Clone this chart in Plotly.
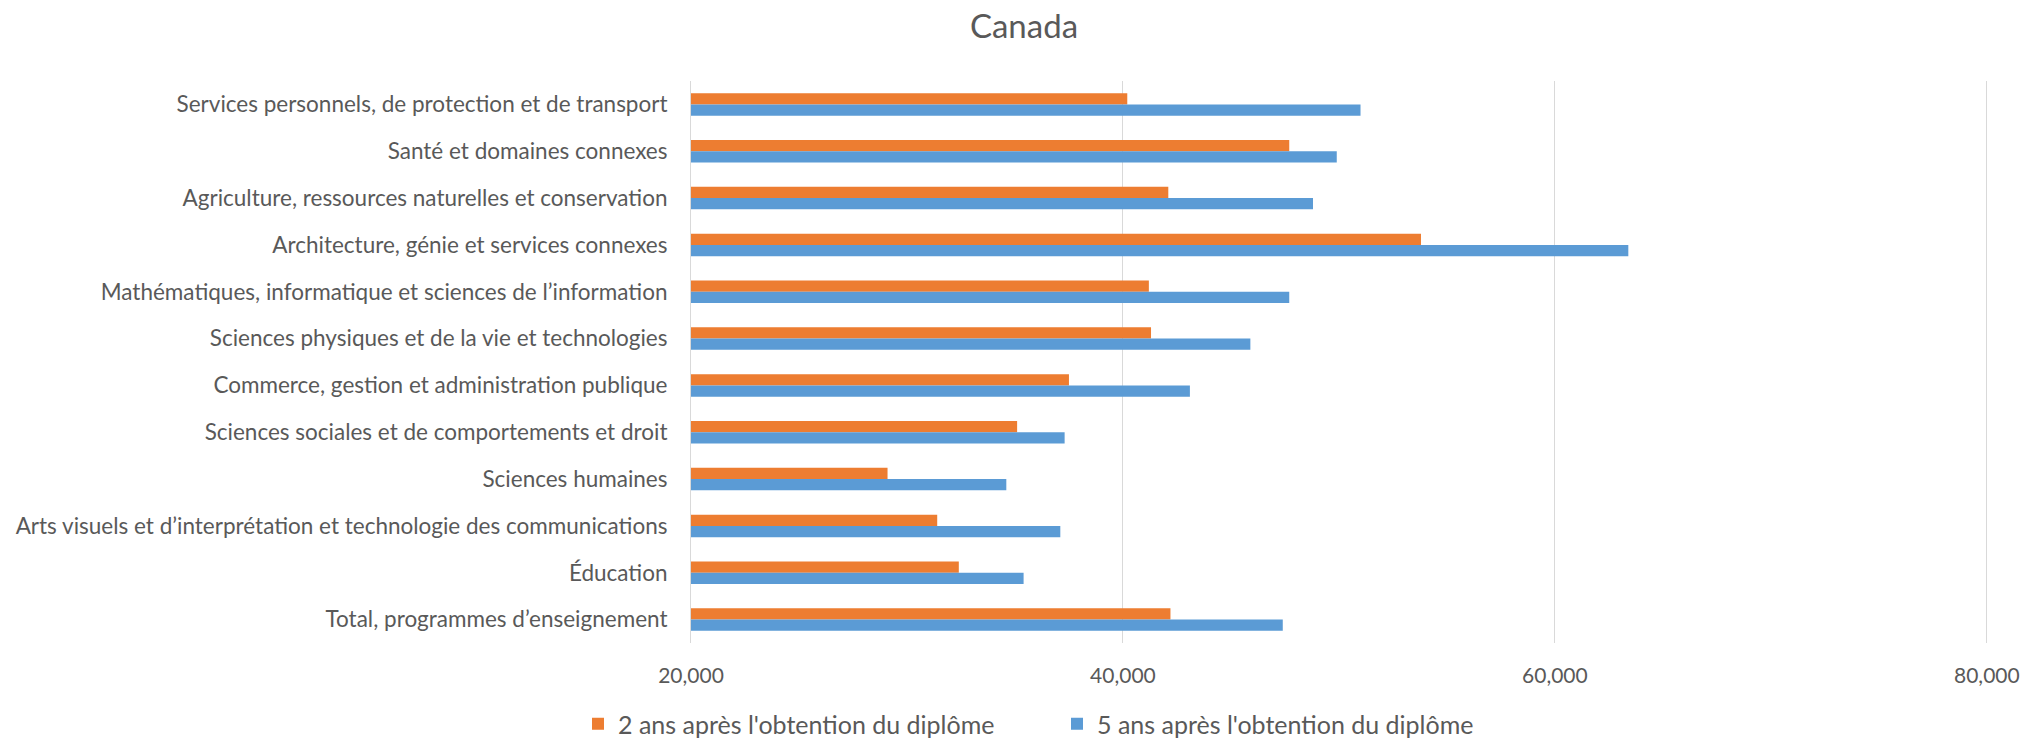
import plotly.graph_objects as go

categories = [
    "Services personnels, de protection et de transport",
    "Santé et domaines connexes",
    "Agriculture, ressources naturelles et conservation",
    "Architecture, génie et services connexes",
    "Mathématiques, informatique et sciences de l’information",
    "Sciences physiques et de la vie et technologies",
    "Commerce, gestion et administration publique",
    "Sciences sociales et de comportements et droit",
    "Sciences humaines",
    "Arts visuels et d’interprétation et technologie des communications",
    "Éducation",
    "Total, programmes d’enseignement",
]
two_years = [40200, 47700, 42100, 53800, 41200, 41300, 37500, 35100, 29100, 31400, 32400, 42200]
five_years = [51000, 49900, 48800, 63400, 47700, 45900, 43100, 37300, 34600, 37100, 35400, 47400]
series_names = ["2 ans après l'obtention du diplôme", "5 ans après l'obtention du diplôme"]
x_ticks = [20000, 40000, 60000, 80000]

FONT = "Lato"
TXT = "#595959"
W, H = 2028, 744

fig = go.Figure()
fig.add_trace(go.Bar(y=categories, x=two_years, orientation="h", name=series_names[0],
                     marker=dict(color="#ED7D31", line=dict(width=0))))
fig.add_trace(go.Bar(y=categories, x=five_years, orientation="h", name=series_names[1],
                     marker=dict(color="#5B9BD5", line=dict(width=0))))

fig.update_layout(
    width=W, height=H,
    paper_bgcolor="white", plot_bgcolor="white",
    margin=dict(l=691, r=39, t=81, b=101, autoexpand=False),
    barmode="group", bargap=0.52, bargroupgap=0,
    font=dict(family=FONT, color=TXT, size=22),
    title=dict(text="Canada", x=1024 / W, xanchor="center", xref="container",
               y=1 - 26 / H, yanchor="middle", yref="container",
               font=dict(family=FONT, size=33, color=TXT)),
    legend=dict(orientation="h", x=1057 / W, xanchor="center", xref="container",
                y=1 - 724 / H, yanchor="middle", yref="container",
                font=dict(family=FONT, size=25, color=TXT),
                entrywidth=434, entrywidthmode="pixels", itemclick=False),
    xaxis=dict(range=[20000, 80100], tickvals=x_ticks, tickformat=",d",
               showgrid=True, gridcolor="#D9D9D9", gridwidth=1, zeroline=False,
               showline=False, ticks="", ticklabelstandoff=18,
               tickfont=dict(family=FONT, size=21, color=TXT), fixedrange=True),
    yaxis=dict(autorange="reversed", showgrid=False, zeroline=False,
               showline=True, linecolor="#D9D9D9", linewidth=1, ticks="",
               ticklabelstandoff=18,
               tickfont=dict(family=FONT, size=22.5, color=TXT), fixedrange=True),
)

fig.write_html("out.html", config={"displayModeBar": False},
               post_script="document.body.style.margin='0px';")
